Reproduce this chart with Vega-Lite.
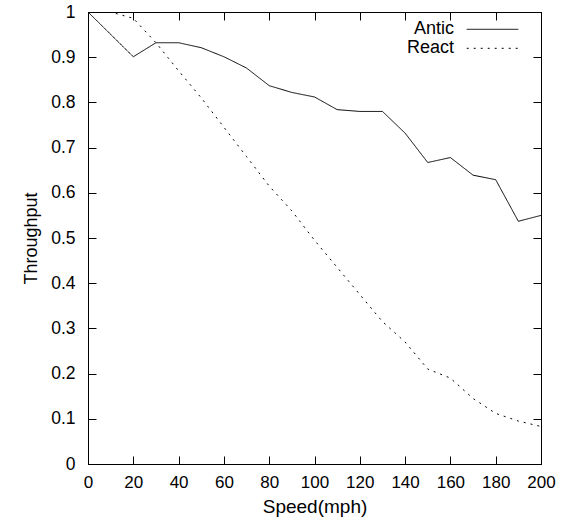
{
  "$schema": "https://vega.github.io/schema/vega-lite/v6.json",
  "width": 453,
  "height": 452,
  "autosize": "none",
  "padding": {"left": 88, "top": 12, "right": 22, "bottom": 57},
  "background": "white",
  "config": {
    "font": "Liberation Sans",
    "view": {"stroke": "black", "strokeWidth": 1},
    "axis": {
      "domainColor": "black",
      "tickColor": "black",
      "labelColor": "black",
      "titleColor": "black",
      "grid": false,
      "tickSize": -8,
      "labelFont": "Liberation Sans",
      "labelFontSize": 17,
      "titleFont": "Liberation Sans",
      "titleFontSize": 18,
      "titleFontWeight": "normal"
    }
  },
  "data": {
    "values": [
      {"series": "Antic", "speed": 0, "throughput": 1.0},
      {"series": "Antic", "speed": 20, "throughput": 0.901},
      {"series": "Antic", "speed": 30, "throughput": 0.932},
      {"series": "Antic", "speed": 40, "throughput": 0.932},
      {"series": "Antic", "speed": 50, "throughput": 0.921},
      {"series": "Antic", "speed": 60, "throughput": 0.901},
      {"series": "Antic", "speed": 70, "throughput": 0.876},
      {"series": "Antic", "speed": 80, "throughput": 0.837},
      {"series": "Antic", "speed": 90, "throughput": 0.822},
      {"series": "Antic", "speed": 100, "throughput": 0.812},
      {"series": "Antic", "speed": 110, "throughput": 0.784},
      {"series": "Antic", "speed": 120, "throughput": 0.780},
      {"series": "Antic", "speed": 130, "throughput": 0.780},
      {"series": "Antic", "speed": 140, "throughput": 0.732},
      {"series": "Antic", "speed": 150, "throughput": 0.667},
      {"series": "Antic", "speed": 160, "throughput": 0.678},
      {"series": "Antic", "speed": 170, "throughput": 0.639},
      {"series": "Antic", "speed": 180, "throughput": 0.629},
      {"series": "Antic", "speed": 190, "throughput": 0.537},
      {"series": "Antic", "speed": 200, "throughput": 0.550},
      {"series": "React", "speed": 0, "throughput": 1.0},
      {"series": "React", "speed": 10, "throughput": 1.0},
      {"series": "React", "speed": 20, "throughput": 0.986},
      {"series": "React", "speed": 30, "throughput": 0.932},
      {"series": "React", "speed": 40, "throughput": 0.870},
      {"series": "React", "speed": 50, "throughput": 0.810},
      {"series": "React", "speed": 60, "throughput": 0.745},
      {"series": "React", "speed": 70, "throughput": 0.680},
      {"series": "React", "speed": 80, "throughput": 0.615},
      {"series": "React", "speed": 90, "throughput": 0.560},
      {"series": "React", "speed": 100, "throughput": 0.495},
      {"series": "React", "speed": 110, "throughput": 0.435},
      {"series": "React", "speed": 120, "throughput": 0.375},
      {"series": "React", "speed": 130, "throughput": 0.315},
      {"series": "React", "speed": 140, "throughput": 0.270},
      {"series": "React", "speed": 150, "throughput": 0.210},
      {"series": "React", "speed": 160, "throughput": 0.190},
      {"series": "React", "speed": 170, "throughput": 0.145},
      {"series": "React", "speed": 180, "throughput": 0.112},
      {"series": "React", "speed": 190, "throughput": 0.095},
      {"series": "React", "speed": 200, "throughput": 0.083}
    ]
  },
  "layer": [
    {
      "mark": {"type": "line", "strokeWidth": 1, "color": "black", "clip": true},
      "encoding": {
        "x": {
          "field": "speed", "type": "quantitative",
          "scale": {"domain": [0, 200], "nice": false, "zero": false},
          "axis": {
            "orient": "bottom",
            "values": [0, 20, 40, 60, 80, 100, 120, 140, 160, 180, 200],
            "labelPadding": 18,
            "labelFlush": false,
            "title": "Speed(mph)",
            "titleFontSize": 19,
            "titleBaseline": "alphabetic",
            "titleY": 48
          }
        },
        "y": {
          "field": "throughput", "type": "quantitative",
          "scale": {"domain": [0, 1], "nice": false, "zero": false},
          "axis": {
            "orient": "left",
            "values": [0, 0.1, 0.2, 0.3, 0.4, 0.5, 0.6, 0.7, 0.8, 0.9, 1],
            "format": "~g",
            "labelPadding": 21,
            "labelFontSize": 17.5,
            "labelFlush": false,
            "title": "Throughput",
            "titleBaseline": "alphabetic",
            "titleX": -52,
            "titleY": 226
          }
        },
        "strokeDash": {
          "field": "series", "type": "nominal",
          "scale": {"domain": ["Antic", "React"], "range": [[1, 0], [2, 5]]},
          "legend": {
            "orient": "none",
            "legendX": 378,
            "legendY": 8,
            "title": null,
            "padding": 0,
            "symbolType": "stroke",
            "symbolSize": 2660,
            "symbolStrokeColor": "black",
            "symbolStrokeWidth": 1,
            "labelAlign": "right",
            "labelOffset": -65,
            "labelFontSize": 18,
            "labelFont": "Liberation Sans",
            "labelColor": "black",
            "clipHeight": 18.6,
            "rowPadding": 0,
            "encode": {
              "entries": {"update": {"width": {"value": 60}, "height": {"value": 18.6}}}
            }
          }
        }
      }
    },
    {
      "mark": {"type": "line", "opacity": 0},
      "encoding": {
        "x": {
          "field": "speed", "type": "quantitative",
          "scale": {"domain": [0, 200], "nice": false, "zero": false},
          "axis": {
            "orient": "top",
            "values": [0, 20, 40, 60, 80, 100, 120, 140, 160, 180, 200],
            "labels": false,
            "title": null
          }
        },
        "y": {
          "field": "throughput", "type": "quantitative",
          "scale": {"domain": [0, 1], "nice": false, "zero": false},
          "axis": {
            "orient": "right",
            "values": [0, 0.1, 0.2, 0.3, 0.4, 0.5, 0.6, 0.7, 0.8, 0.9, 1],
            "labels": false,
            "title": null
          }
        },
        "detail": {"field": "series", "type": "nominal"}
      }
    }
  ],
  "resolve": {"axis": {"x": "independent", "y": "independent"}}
}
